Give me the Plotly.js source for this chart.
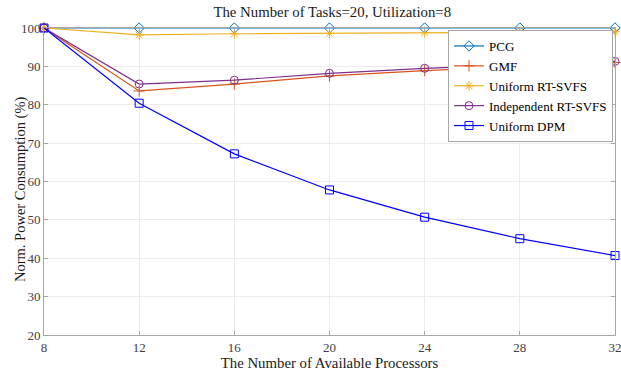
<!DOCTYPE html>
<html>
<head>
<meta charset="utf-8">
<script src="https://cdn.plot.ly/plotly-3.0.1.min.js"></script>
<style>html,body{margin:0;padding:0;background:#fff;}#chart{width:621px;height:374px;}</style>
</head>
<body>
<div id="chart"></div>
<script>
const processors = [8, 12, 16, 20, 24, 28, 32];
const pcg = [100, 100, 100, 100, 100, 100, 100];
const gmf = [100, 83.6, 85.4, 87.5, 88.9, 90.0, 91.0];
const uniformRtSvfs = [100, 98.2, 98.5, 98.6, 98.8, 98.9, 99.0];
const independentRtSvfs = [100, 85.4, 86.4, 88.2, 89.5, 90.4, 91.3];
const uniformDpm = [100, 80.4, 67.2, 57.8, 50.7, 45.1, 40.7];
const xTicks = [8, 12, 16, 20, 24, 28, 32];
const yTicks = [20, 30, 40, 50, 60, 70, 80, 90, 100];

const serif = "Liberation Serif, Times New Roman, serif";
function tr(name, y, color, symbol) {
  return {
    x: processors, y: y, name: name, type: 'scatter', mode: 'lines+markers',
    line: {color: color, width: 1.2},
    marker: {symbol: symbol, size: 8, color: color, line: {color: color, width: 1}},
    cliponaxis: false
  };
}
const data = [
  tr('PCG', pcg, '#0072BD', 'diamond-open'),
  tr('GMF', gmf, '#D95319', 'cross-thin-open'),
  tr('Uniform RT-SVFS', uniformRtSvfs, '#EDB120', 'asterisk-open'),
  tr('Independent RT-SVFS', independentRtSvfs, '#7E2F8E', 'circle-open'),
  tr('Uniform DPM', uniformDpm, '#0000FF', 'square-open')
];
const axisCommon = {
  showline: true, linecolor: '#a6a6a6', linewidth: 1, mirror: 'ticks',
  ticks: 'inside', ticklen: 4, tickcolor: '#a6a6a6',
  showgrid: true, gridcolor: '#ececec', gridwidth: 1, zeroline: false,
  tickfont: {family: serif, size: 13, color: '#404040'},
  ticklabeloverflow: 'allow'
};
const layout = {
  width: 621, height: 374,
  margin: {l: 44, r: 6, t: 28, b: 39},
  paper_bgcolor: '#fff', plot_bgcolor: '#fff',
  title: {text: 'The Number of Tasks=20, Utilization=8', x: 0.535, xanchor: 'center', y: 0.968, yanchor: 'middle',
          font: {family: serif, size: 14.8, color: '#1a1a1a'}},
  xaxis: Object.assign({}, axisCommon, {
    range: [8, 32], tickvals: xTicks, ticktext: xTicks.map(String),
    title: {text: 'The Number of Available Processors', font: {family: serif, size: 14.8, color: '#1a1a1a'}, standoff: 3}
  }),
  yaxis: Object.assign({}, axisCommon, {
    range: [20, 100], tickvals: yTicks, ticktext: yTicks.map(String)
  }),
  annotations: [{
    text: 'Norm. Power Consumption (%)', textangle: -90, showarrow: false,
    xref: 'paper', yref: 'paper', x: -0.0403, y: 0.4756, xanchor: 'center', yanchor: 'middle',
    font: {family: serif, size: 14.5, color: '#1a1a1a'}
  }],
  showlegend: true,
  legend: {
    x: 0.9965, xanchor: 'right', y: 0.9935, yanchor: 'top',
    bgcolor: '#ffffff', bordercolor: '#a6a6a6', borderwidth: 1,
    font: {family: serif, size: 13, color: '#000'},
    itemwidth: 30, tracegroupgap: 0
  }
};
Plotly.newPlot('chart', data, layout, {displayModeBar: false, staticPlot: true});
</script>
</body>
</html>
